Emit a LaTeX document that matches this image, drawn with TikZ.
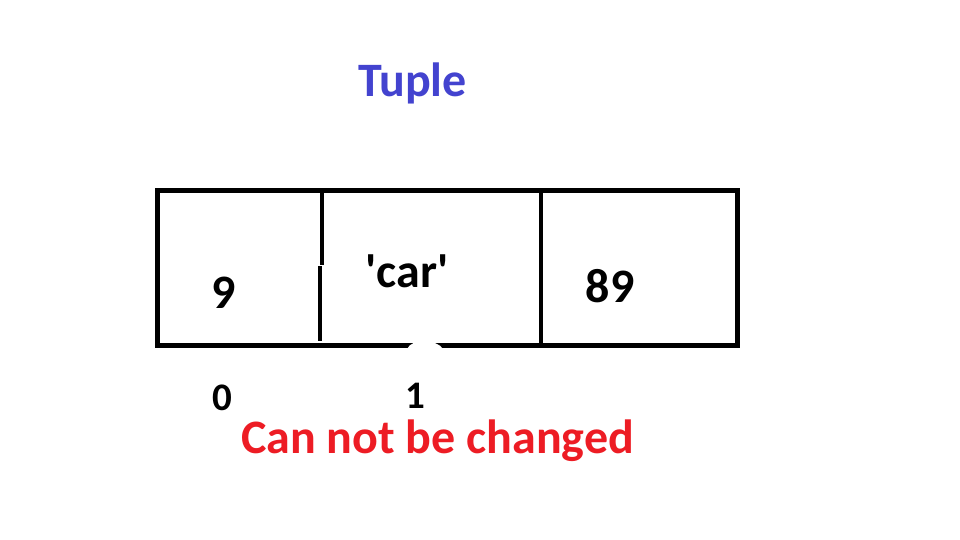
\documentclass[tikz,border=0pt]{standalone}
\usepackage{fontspec}
\setmainfont{Carlito}
\newfontfamily\rawcarlito{Carlito}
\definecolor{tupleblue}{HTML}{4343CF}
\definecolor{warnred}{HTML}{ED1C24}
\begin{document}
\begin{tikzpicture}[x=1pt,y=-1pt,
  boxline/.style={line width=4.8pt, black},
  bigtxt/.style={inner sep=0pt, anchor=base, font=\bfseries\fontsize{48}{56}\selectfont},
  idxtxt/.style={inner sep=0pt, anchor=base, font=\bfseries\fontsize{39}{46}\selectfont}]
\useasboundingbox[fill=white] (0,0) rectangle (960,540);
% title
\node[bigtxt, text=tupleblue] (title) at (412.5,97) {Tuple};
% box
\coordinate (tl) at (157.5,190.5);
\coordinate (br) at (737.5,345.5);
\draw[boxline] (tl) rectangle (br);
\coordinate (d1a) at (322,190.5);
\coordinate (d1b) at (322,265);
\coordinate (d1c) at (320,266);
\coordinate (d1d) at (320,341);
\draw[boxline] (d1a) -- (d1b);
\draw[boxline] (d1c) -- (d1d);
\coordinate (d2a) at (541,190.5);
\coordinate (d2b) at (541,345.5);
\draw[boxline] (d2a) -- (d2b);
% erased blob over the bottom edge
\fill[white] (407,349) .. controls (410,343) and (416,341.5) .. (424,341.5)
  .. controls (433,341.5) and (440,344) .. (443,349) -- (443,352) -- (407,352) -- cycle;
% values
\node[bigtxt] (v0) at (224,308) {9};
\node[bigtxt, font=\rawcarlito\bfseries\fontsize{48}{56}\selectfont] (v1) at (407,287) {'car'};
\node[bigtxt] (v2) at (610,302) {89};
% indices
\node[idxtxt] (i0) at (222,410) {0};
\node[idxtxt] (i1) at (415.5,408) {1};
% note
\node[bigtxt, text=warnred] (note) at (437.5,453) {Can not be changed};
\end{tikzpicture}
\end{document}
